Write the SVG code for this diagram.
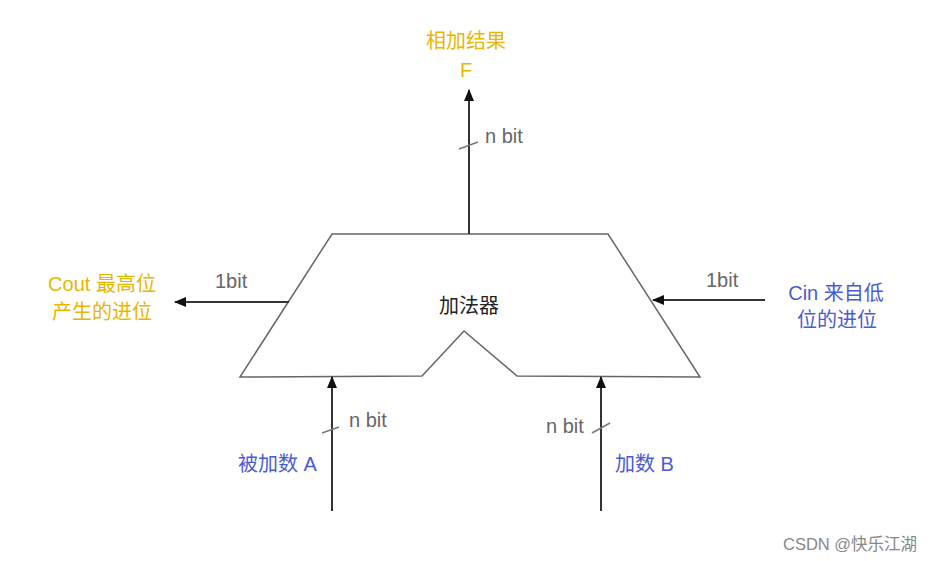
<svg xmlns="http://www.w3.org/2000/svg" width="933" height="561" viewBox="0 0 933 561">
<style>
text{font-family:"Liberation Sans","Noto Sans CJK SC",sans-serif;}
.y{fill:#E8B600;font-size:20px;}
.b{fill:#4A5BD4;font-size:20px;}
.g{fill:#666;font-size:20px;}
.w{stroke:#333;stroke-width:2;fill:none;}
.s{stroke:#777;stroke-width:1.5;fill:none;}
</style>
<defs>
<marker id="ah" viewBox="0 0 12 10" refX="11" refY="5" markerWidth="12" markerHeight="10" orient="auto" markerUnits="userSpaceOnUse">
<path d="M0,0 L12,5 L0,10 Z" fill="#111"/>
</marker>
</defs>
<rect width="933" height="561" fill="#fff"/>
<g id="adder">
<polygon points="332,234 608,234 700,377 517,376 464,331 422,376 240,377" fill="#fff" stroke="#666" stroke-width="1.5"/>
<text x="469" y="313" text-anchor="middle" font-size="20" fill="#222">加法器</text>
</g>
<g id="connectors">
<line class="w" x1="469" y1="234" x2="469" y2="90" marker-end="url(#ah)"/>
<line class="s" x1="459" y1="149" x2="478" y2="142"/>
<line class="w" x1="289" y1="302" x2="175" y2="302" marker-end="url(#ah)"/>
<line class="w" x1="765" y1="300" x2="653" y2="300" marker-end="url(#ah)"/>
<line class="w" x1="332" y1="511" x2="332" y2="377" marker-end="url(#ah)"/>
<line class="s" x1="322" y1="433" x2="339" y2="427"/>
<line class="w" x1="601" y1="511" x2="601" y2="377" marker-end="url(#ah)"/>
<line class="s" x1="592" y1="433" x2="610" y2="423"/>
</g>
<g id="out-F">
<text class="y" x="466" y="48" text-anchor="middle">相加结果</text>
<text class="y" x="466" y="77" text-anchor="middle">F</text>
<text class="g" x="485" y="143">n bit</text>
</g>
<g id="cout">
<text class="y" x="102" y="291" text-anchor="middle">Cout 最高位</text>
<text class="y" x="102" y="319" text-anchor="middle">产生的进位</text>
<text class="g" x="215" y="288">1bit</text>
</g>
<g id="cin">
<text class="b" x="836" y="300" text-anchor="middle">Cin 来自低</text>
<text class="b" x="837" y="327" text-anchor="middle">位的进位</text>
<text class="g" x="706" y="287">1bit</text>
</g>
<g id="inA">
<text class="b" x="238" y="471">被加数 A</text>
<text class="g" x="349" y="427">n bit</text>
</g>
<g id="inB">
<text class="b" x="615" y="471">加数 B</text>
<text class="g" x="546" y="433">n bit</text>
</g>
<text x="783" y="550" font-size="16.5" fill="#888">CSDN @快乐江湖</text>
</svg>
